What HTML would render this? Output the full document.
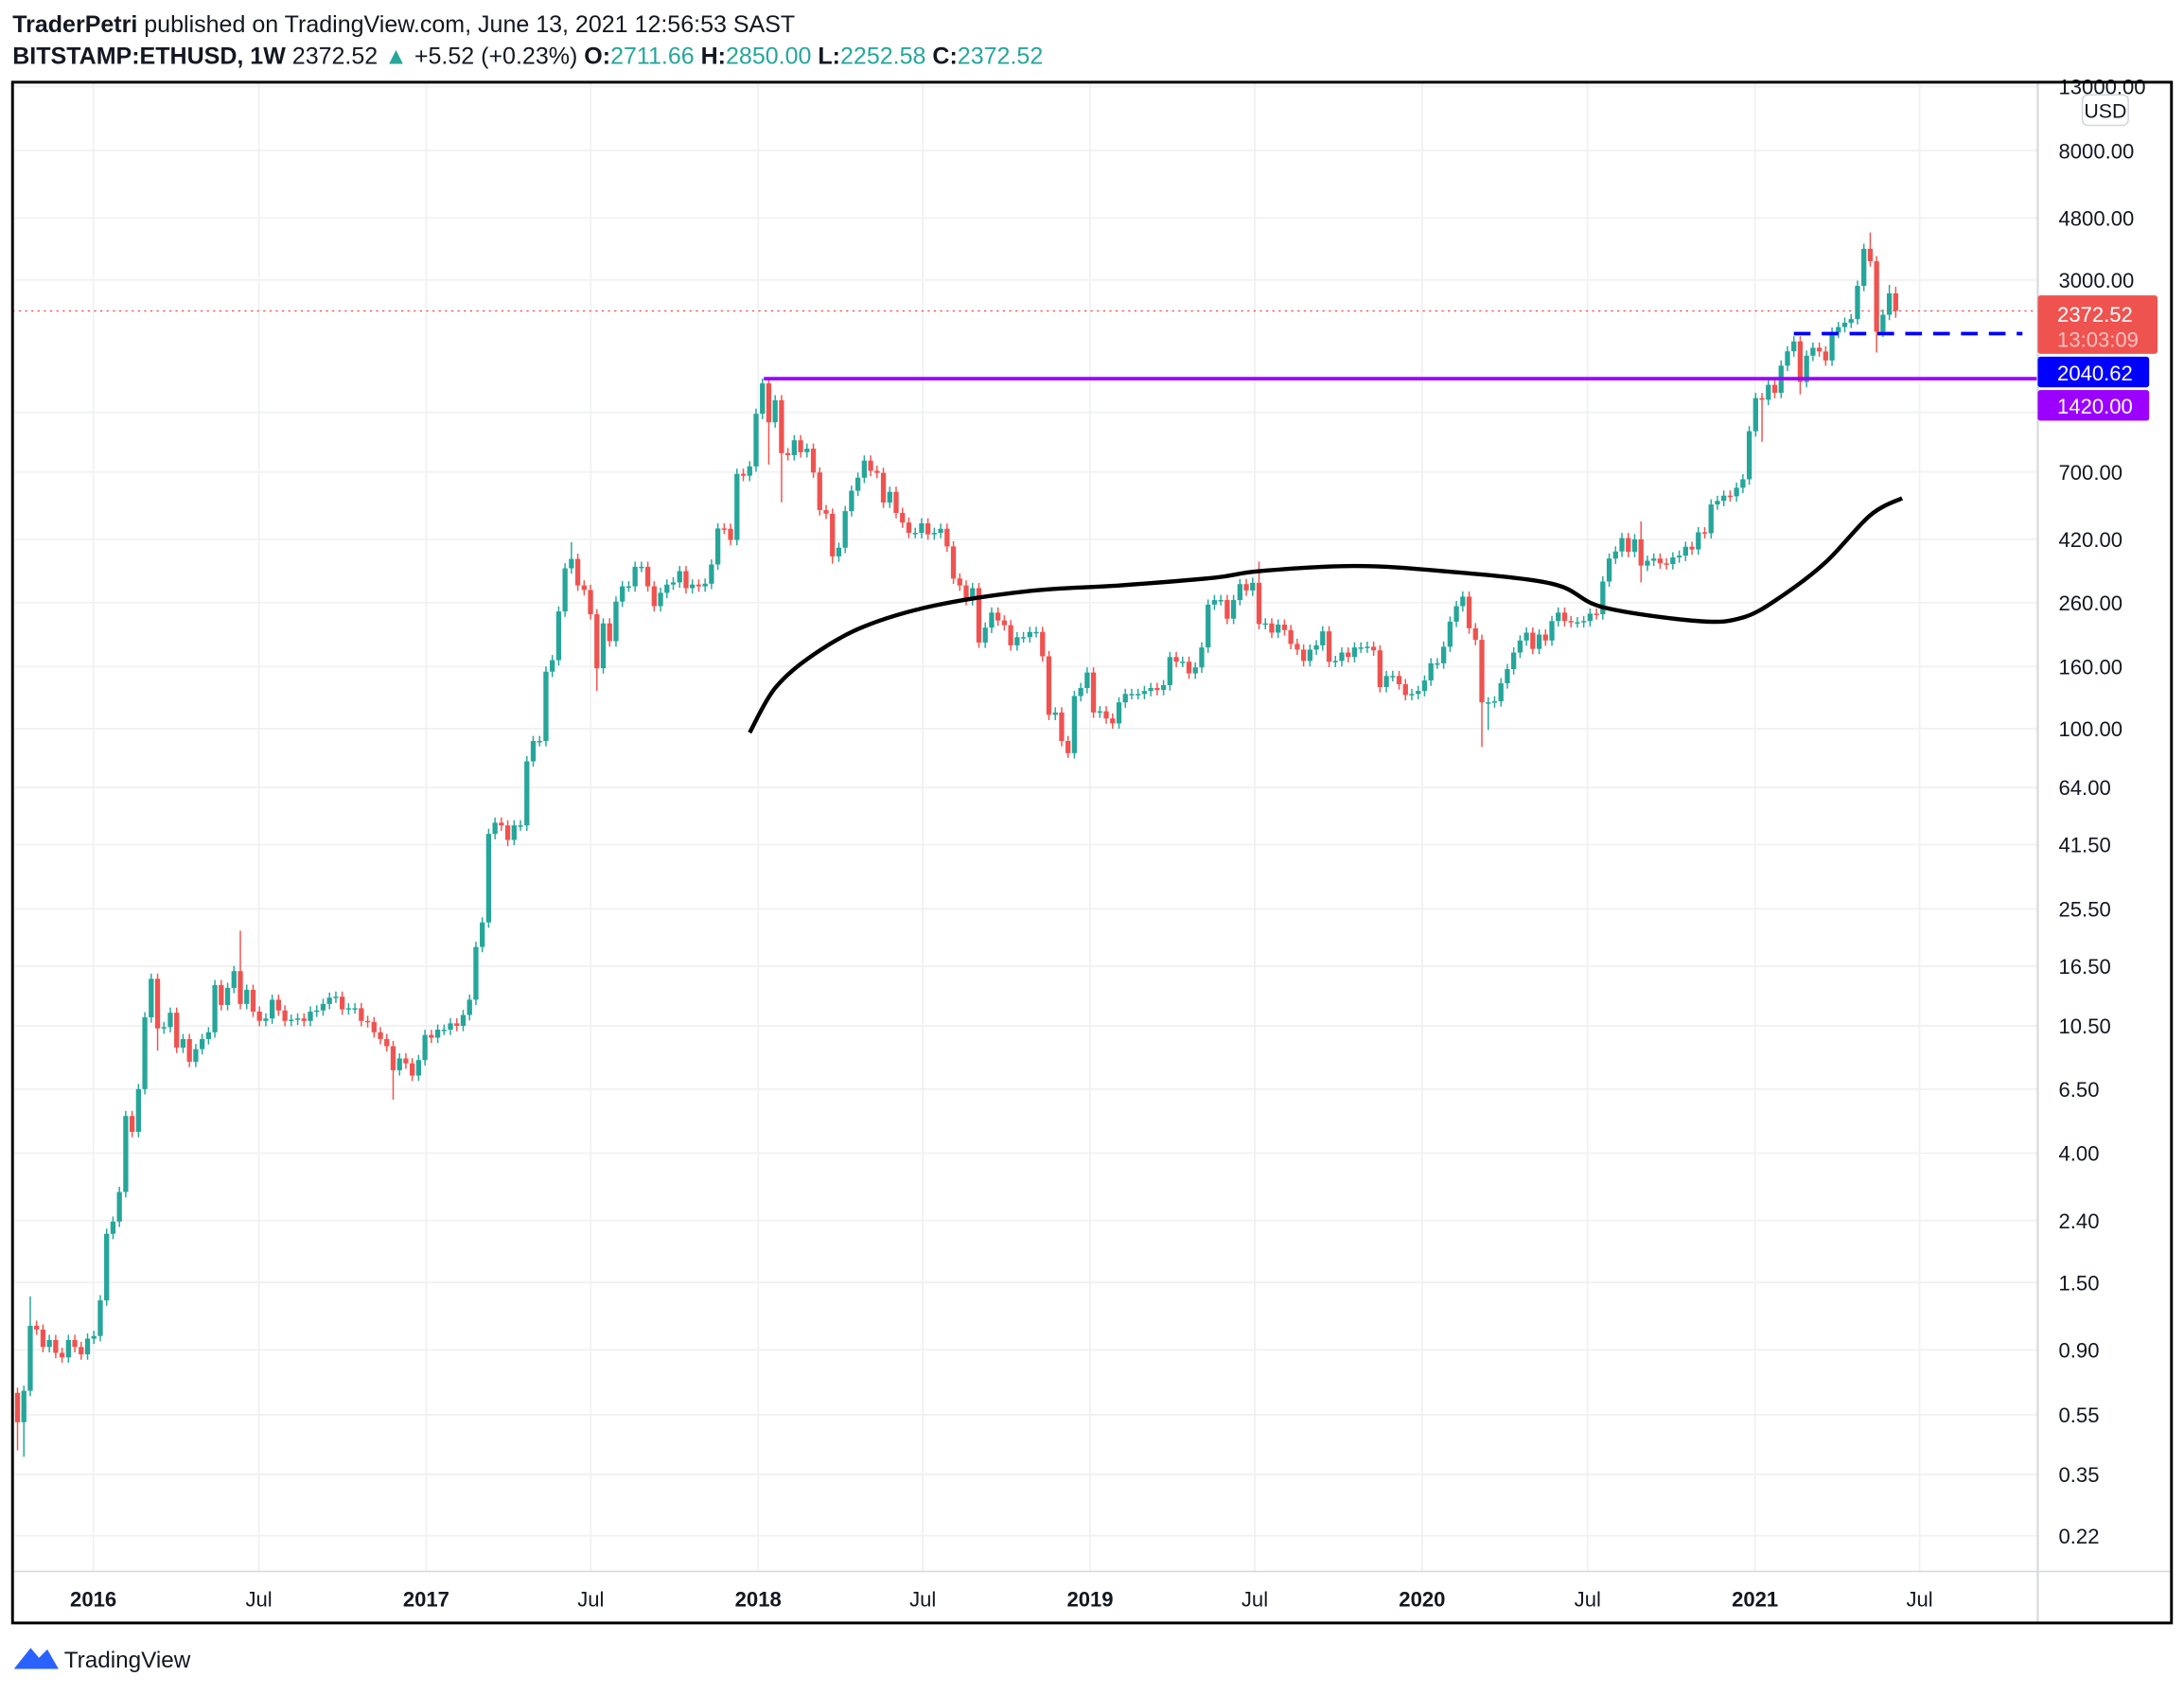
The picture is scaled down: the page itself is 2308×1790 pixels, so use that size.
<!DOCTYPE html>
<html><head><meta charset="utf-8"><style>
html,body{margin:0;padding:0;background:#fff;}
svg{display:block;font-family:"Liberation Sans",sans-serif;}
</style></head><body>
<svg id="chart" width="2308" height="1790" viewBox="0 0 1568 1216" preserveAspectRatio="none" xmlns="http://www.w3.org/2000/svg">
<text x="9" y="23" font-size="17" fill="#131722"><tspan font-weight="bold">TraderPetri</tspan> published on TradingView.com, June 13, 2021 12:56:53 SAST</text>
<text x="9" y="46" font-size="17" fill="#131722"><tspan font-weight="bold">BITSTAMP:ETHUSD, 1W</tspan> 2372.52 <tspan fill="#26a69a">▲</tspan> +5.52 (+0.23%) <tspan font-weight="bold">O:</tspan><tspan fill="#26a69a">2711.66</tspan> <tspan font-weight="bold">H:</tspan><tspan fill="#26a69a">2850.00</tspan> <tspan font-weight="bold">L:</tspan><tspan fill="#26a69a">2252.58</tspan> <tspan font-weight="bold">C:</tspan><tspan fill="#26a69a">2372.52</tspan></text>
<g id="grid"></g>
<g id="marks"></g>
<line x1="1463" y1="59" x2="1463" y2="1165" stroke="#d6d8de" stroke-width="1.5"/>
<line x1="9" y1="1128" x2="1559" y2="1128" stroke="#d6d8de" stroke-width="1"/>
<g id="axes"></g>
<rect x="1495" y="68" width="33" height="22" rx="4" fill="#fff" stroke="#d1d4dc"/>
<text x="1511.5" y="84.5" font-size="14.5" text-anchor="middle" fill="#131722">USD</text>
<rect x="1463" y="212" width="86" height="42" rx="2" fill="#ef5350"/>
<text x="1477" y="231" font-size="15" fill="#fff">2372.52</text>
<text x="1477" y="249" font-size="15" fill="#fcc2c1">13:03:09</text>
<rect x="1463" y="256" width="80" height="22" rx="2" fill="#0000ff"/>
<text x="1477" y="273" font-size="15" fill="#fff">2040.62</text>
<rect x="1463" y="280" width="80" height="22" rx="2" fill="#9c00ff"/>
<text x="1477" y="297" font-size="15" fill="#fff">1420.00</text>
<rect x="9" y="59" width="1550" height="1106" fill="none" stroke="#000" stroke-width="2"/>
<g>
<path d="M10 1198 L22 1183 L28 1190 L34 1184 L42 1198 Z" fill="#2962ff"/>
<text x="46" y="1197" font-size="16.5" fill="#131722">TradingView</text>
</g>
</svg>
<script>
const closes = [0.52,0.66,1.08,1.05,0.92,0.97,0.88,0.85,0.97,0.92,0.87,0.98,1.0,
1.31,2.17,2.38,2.98,5.3,4.7,6.5,11.2,15.0,10.3,10.4,11.6,8.9,9.5,8.0,8.8,9.5,
10.0,14.3,12.3,14.0,15.9,12.4,13.8,11.7,10.9,11.1,12.8,11.8,10.9,11.0,11.1,10.9,11.7,11.8,12.4,13.0,13.1,11.9,12.0,12.0,10.9,10.8,10.0,9.5,9.0,7.5,8.2,7.9,7.2,
8.1,9.8,9.6,10.2,10.2,10.7,10.5,11.4,12.8,19.1,23,45,49,48,43,48,48,78,91,91,154,168,243,337,362,296,286,238,158,222,194,262,294,294,341,341,294,253,280,298,303,330,290,298,294,300,347,456,455,418,690,680,730,1088,1370,1020,1205,807,
795,890,813,835,697,524,510,369,394,520,607,670,763,706,695,555,602,513,477,441,441,474,436,441,455,398,312,296,265,290,192,215,241,227,219,188,200,200,208,208,173,111,113,91,83,128,136,153,113,114,108,104,122,130,130,130,133,136,134,139,172,166,166,152,159,185,256,265,265,230,265,299,285,302,221,222,207,220,211,190,182,167,182,188,209,166,167,178,172,185,185,186,181,137,149,149,140,129,130,133,144,164,164,186,225,253,272,214,
196,122,122,123,141,157,178,195,207,183,204,195,226,241,226,224,224,226,239,238,305,363,383,424,382,420,344,357,363,350,348,366,371,397,389,443,440,547,562,585,582,621,662,953,1225,1210,1355,1275,1567,1747,1884,1385,1690,1795,1745,1630,2013,2100,2170,2230,2870,3800,3457,2028,2305,2711,2372.52];
const firstOpen = 0.65;
const highIdx = [2,35,87,117,195,255,291,294,295];
const highVals = [1.35,21.6,411,1420,355,481,4300,2890,2850];
const lowIdx = [0,1,22,59,77,91,118,120,128,165,230,231,255,274,280,292,295];
const lowVals = [0.42,0.40,8.7,6.0,41,133,740,556,349,80,87,99,303,880,1260,1730,2252.58];
const maIdx = [115,119,125,133,144,159,173,188,195,210,224,241,249,264,271,277,284,291,296];
const maVals = [97,136,175,217,254,284,296,314,330,343,330,300,251,226,232,272,353,504,574];
const priceTicks = [13000,8000,4800,3000,1100,700,420,260,160,100,64,41.5,25.5,16.5,10.5,6.5,4,2.4,1.5,0.9,0.55,0.35,0.22];
const timeTickDates = ['2016-01-01','2016-07-01','2017-01-01','2017-07-01','2018-01-01','2018-07-01','2019-01-01','2019-07-01','2020-01-01','2020-07-01','2021-01-01','2021-07-01'];
const timeTickLabels = ['2016','Jul','2017','Jul','2018','Jul','2019','Jul','2020','Jul','2021','Jul'];
const lastPrice = 2372.52, blueLevel = 2040.62, purpleLevel = 1420;

const NS='http://www.w3.org/2000/svg';
const yOf = v => 523 - (Math.log10(v) - 2) * 218;
const xOf = i => 72 + 4.571 * (i - 13);
const xDate = s => 67 + (Date.parse(s) - Date.parse('2016-01-01')) / 86400000 / 365.25 * 238.5;
function mk(tag, attrs, parent){const e=document.createElementNS(NS,tag);for(const k in attrs)e.setAttribute(k,attrs[k]);parent.appendChild(e);return e;}
const grid=document.getElementById('grid'), marks=document.getElementById('marks'), axes=document.getElementById('axes');

priceTicks.forEach(v=>{
  const y=yOf(v);
  const l=mk('line',{x1:9,x2:1463,y1:y,y2:y,stroke:'#f0f1f3','stroke-width':1.2},grid);
  
  
  const t=mk('text',{x:1478,y:y+5.5,'font-size':15,fill:'#131722'},axes);
  
  
  t.textContent=v.toFixed(2);
});
timeTickDates.forEach((d,k)=>{
  const x=xDate(d);
  const l=mk('line',{x1:x,x2:x,y1:59,y2:1128,stroke:'#f0f1f3','stroke-width':1.2},grid);
  
  
  const lab=timeTickLabels[k];
  const t=mk('text',{x:x,y:1153,'font-size':15,'text-anchor':'middle',fill:'#131722','font-weight':lab==='Jul'?'normal':'bold'},axes);
  
  
  t.textContent=lab;
});

const cp=mk('line',{x1:9,x2:1463,y1:yOf(lastPrice),y2:yOf(lastPrice),stroke:'#ef5350','stroke-width':1,'stroke-dasharray':'1.5 3'},marks);



closes.forEach((c,i)=>{
  const o=i===0?firstOpen:closes[i-1];
  let hi=Math.max(o,c)*1.04, lo=Math.min(o,c)*0.96;
  const hk=highIdx.indexOf(i); if(hk>=0) hi=highVals[hk];
  const lk=lowIdx.indexOf(i); if(lk>=0) lo=lowVals[lk];
  const col=c>=o?'#26a69a':'#ef5350';
  const x=xOf(i);
  const g=mk('g',{},marks);
  
  
  mk('line',{x1:x,x2:x,y1:yOf(hi),y2:yOf(lo),stroke:col,'stroke-width':1},g);
  const yt=yOf(Math.max(o,c)), yb=yOf(Math.min(o,c));
  mk('rect',{x:x-1.8,y:yt,width:3.6,height:Math.max(1,yb-yt),fill:col},g);
});

// moving average (smooth Catmull-Rom through data points)
const pts=maIdx.map((i,k)=>[xOf(i),yOf(maVals[k])]);
let d='M'+pts[0][0].toFixed(1)+' '+pts[0][1].toFixed(1);
for(let k=0;k<pts.length-1;k++){
  const p0=pts[Math.max(0,k-1)],p1=pts[k],p2=pts[k+1],p3=pts[Math.min(pts.length-1,k+2)];
  const c1=[p1[0]+(p2[0]-p0[0])/6,p1[1]+(p2[1]-p0[1])/6];
  const c2=[p2[0]-(p3[0]-p1[0])/6,p2[1]-(p3[1]-p1[1])/6];
  d+=' C'+c1[0].toFixed(1)+' '+c1[1].toFixed(1)+' '+c2[0].toFixed(1)+' '+c2[1].toFixed(1)+' '+p2[0].toFixed(1)+' '+p2[1].toFixed(1);
}
const ma=mk('path',{d:d,fill:'none',stroke:'#000','stroke-width':3,'stroke-linejoin':'round'},marks);



const pl=mk('line',{x1:xOf(117)+1,x2:1463,y1:yOf(purpleLevel),y2:yOf(purpleLevel),stroke:'#9c00ff','stroke-width':2.5},marks);


const bl=mk('line',{x1:xOf(279),x2:1452,y1:yOf(blueLevel)+2,y2:yOf(blueLevel)+2,stroke:'#0000ff','stroke-width':2.5,'stroke-dasharray':'12 8'},marks);


</script>
</body></html>
